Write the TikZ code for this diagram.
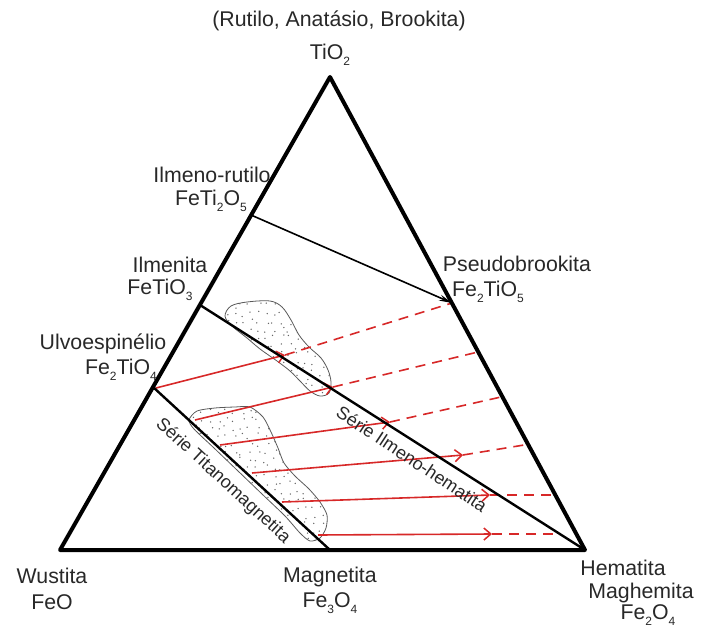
\documentclass[tikz,border=0pt]{standalone}
\usepackage{fontspec}
\setmainfont{Liberation Sans}
\usetikzlibrary{arrows.meta}
\definecolor{tred}{RGB}{215,40,40}
\definecolor{txt}{RGB}{40,40,40}
\newcommand\sbs[1]{\raisebox{-0.3em}{\fontsize{12}{12}\selectfont #1}}
\begin{document}
\begin{tikzpicture}[x=1pt,y=-1pt,
  lbl/.style={font=\fontsize{21.3}{25}\selectfont, text=txt, inner sep=0pt, align=center},
  serie/.style={font=\fontsize{18}{20}\selectfont, text=txt, inner sep=0pt},
  edgeline/.style={line width=4pt, line join=round, line cap=round},
  seriesline/.style={line width=2.4pt},
  tie/.style={draw=tred, line width=1.6pt},
  tiedash/.style={draw=tred, line width=1.6pt, dash pattern=on 10pt off 7pt},
  blob/.style={draw=black!65, line width=0.8pt},
  arr/.style={-{Straight Barb[length=7pt,width=12pt,line width=1.5pt]}},
  dot/.style={fill=black!60}
]
\useasboundingbox (0,0) rectangle (701,628);

% corners and edge points
\coordinate (W) at (60,550);
\coordinate (H) at (585,550);
\coordinate (T) at (330,77);
\coordinate (IR) at (251,215);
\coordinate (IL) at (200,305);
\coordinate (UL) at (153,387);
\coordinate (MG) at (330,550);
\coordinate (PB) at (452,303);

% stippled blobs
\pgfmathsetseed{11}
\draw[blob, path picture={
  \foreach \i in {218,226,...,336}{\foreach \j in {298,306,...,400}{
    \pgfmathsetmacro\dx{\i+3*rand}\pgfmathsetmacro\dy{\j+3*rand}
    \fill[dot] (\dx,\dy) circle (0.75pt);}}}]
  plot[smooth cycle, tension=0.55] coordinates {
  (225,316) (231,306) (247,302) (270,301) (282,307) (291,320) (299,335)
  (309,347) (321,358) (328,370) (331,382) (329,393) (320,396) (310,391)
  (300,381) (290,371) (277,361) (260,349) (247,338) (232,326)};
\draw[blob, path picture={
  \foreach \i in {186,194,...,334}{\foreach \j in {404,412,...,548}{
    \pgfmathsetmacro\dx{\i+3*rand}\pgfmathsetmacro\dy{\j+3*rand}
    \fill[dot] (\dx,\dy) circle (0.75pt);}}}]
  plot[smooth cycle, tension=0.45] coordinates {
  (189,420) (197,411) (215,408) (235,407) (250,407) (263,417) (271,432)
  (278,448) (284,463) (295,476) (309,489) (320,502) (327,515) (326,528)
  (320,538) (310,541) (300,533) (285,516) (262,494) (238,471) (214,448)
  (194,429)};

% red tie lines: start, arrow tip, end
\coordinate (s1) at (156,388); \coordinate (a1) at (285,355); \coordinate (e1) at (452,303);
\coordinate (s2) at (195,420); \coordinate (a2) at (333,387); \coordinate (e2) at (478,352);
\coordinate (s3) at (220,445); \coordinate (a3) at (390,422); \coordinate (e3) at (501,397);
\coordinate (s4) at (252,473); \coordinate (a4) at (463,455); \coordinate (e4) at (524,445);
\coordinate (s5) at (282,502); \coordinate (a5) at (490,495); \coordinate (e5) at (553,495);
\coordinate (s6) at (318,535); \coordinate (a6) at (492,534); \coordinate (e6) at (560,534);
\foreach \k in {1,...,6}{
  \draw[tiedash] (a\k) -- (e\k);
  \draw[tie, arr] (s\k) -- (a\k);
}

% series lines
\draw[seriesline] (IL) -- (H);
\draw[seriesline] (UL) -- (MG);
\draw[line width=1.6pt, -{Stealth[length=13pt,width=6pt]}] (IR) -- (PB);

% triangle
\draw[edgeline] (W) -- (T) -- (H) -- cycle;

% labels
\node[lbl] (top) at (339,21) {(Rutilo, Anatásio, Brookita)};
\node[lbl] (tio2) at (330,55) {TiO\sbs{2}};
\node[lbl] (ilr) at (212,175) {Ilmeno-rutilo};
\node[lbl] (ilrf) at (211,201) {FeTi\sbs{2}O\sbs{5}};
\node[lbl] (ilm) at (170,265) {Ilmenita};
\node[lbl] (ilmf) at (160,290) {FeTiO\sbs{3}};
\node[lbl] (ulv) at (103,344) {Ulvoespinélio};
\node[lbl] (ulvf) at (121,370) {Fe\sbs{2}TiO\sbs{4}};
\node[lbl] (pb) at (517,264) {Pseudobrookita};
\node[lbl] (pbf) at (488,292) {Fe\sbs{2}TiO\sbs{5}};
\node[lbl] (wus) at (52,576) {Wustita};
\node[lbl] (wusf) at (52,602) {FeO};
\node[lbl] (mag) at (330,577) {Magnetita};
\node[lbl] (magf) at (330,603) {Fe\sbs{3}O\sbs{4}};
\node[lbl] (hem) at (623,568) {Hematita};
\node[lbl] (mgh) at (641,593) {Maghemita};
\node[lbl] (hemf) at (648,615) {Fe\sbs{2}O\sbs{4}};
\node[serie, rotate=-42.6] (stm) at (223,481) {Série Titanomagnetita};
\node[serie, rotate=-33.5] (sih) at (412,459) {Série Ilmeno-hematita};
\end{tikzpicture}
\end{document}
